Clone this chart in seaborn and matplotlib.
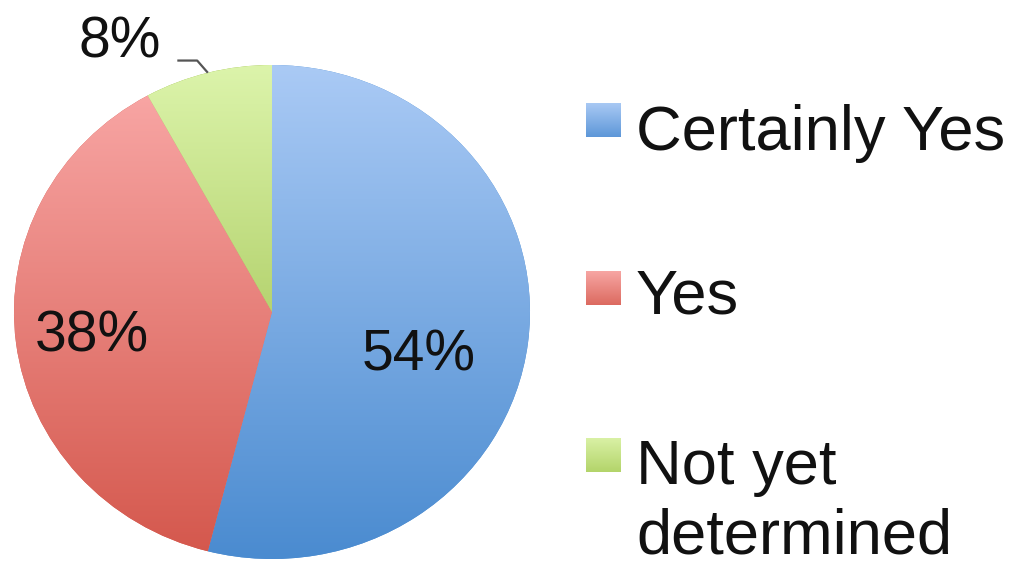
import numpy as np
import seaborn as sns
import matplotlib.pyplot as plt

sns.set_theme(style="white")
plt.rcParams["font.family"] = ["Liberation Sans", "DejaVu Sans"]

# data
labels = ["Certainly Yes", "Yes", "Not yet\ndetermined"]
values = [54, 38, 8]
pct_labels = ["54%", "38%", "8%"]

# vertical gradient colours (top, bottom) per slice
grad_top = ["#aacaf5", "#faaaa9", "#dcf4ab"]
grad_bottom = ["#4a8bd0", "#d4574c", "#8fb336"]

fig = plt.figure(figsize=(10.16, 5.66), dpi=100)
W, H = 1016, 566

# pie axes: slightly wider than tall, like the original
ax = fig.add_axes([14 / W, 7 / H, 516 / W, 494 / H])
wedges, _ = ax.pie(values, startangle=90, counterclock=False,
                   colors=grad_bottom, radius=1,
                   wedgeprops=dict(linewidth=0))
ax.set_xlim(-1, 1)
ax.set_ylim(-1, 1)

ramp = np.linspace(0, 1, 256).reshape(-1, 1)
for w, c0, c1 in zip(wedges, grad_top, grad_bottom):
    cmap = sns.blend_palette([c0, c1], as_cmap=True)
    im = ax.imshow(ramp, cmap=cmap, extent=[-1, 1, -1, 1], origin="upper",
                   aspect="auto", zorder=2, interpolation="bilinear")
    im.set_clip_path(w)
ax.set_aspect("auto")
ax.axis("off")

# percentage labels
pos = [(0.57, -0.175), (-0.70, -0.10), (-0.59, 1.09)]
for (x, y), t in zip(pos, pct_labels):
    ax.text(x, y, t, fontsize=41, color="#111111", ha="center", va="center",
            zorder=5, clip_on=False)

# leader line for the small slice
theta = np.deg2rad(90 - (values[0] + values[1] + values[2] / 2) * 3.6)
ex, ey = np.cos(theta), np.sin(theta)
ax.plot([-0.367, -0.29, ex], [1.018, 1.018, ey], color="#555555", lw=1.6,
        zorder=5, clip_on=False, solid_capstyle="butt")

# legend drawn on a pixel-space overlay
ov = fig.add_axes([0, 0, 1, 1])
ov.axis("off")
sq_y = [103, 271, 438]
text_base = [150, 313, 553]  # baseline of the last line of each label
sq_top = ["#a9c9f4", "#f7a6a3", "#d9f1a5"]
sq_bottom = ["#5d97d8", "#dc6a60", "#b3d46a"]
for y, b, lab, c0, c1 in zip(sq_y, text_base, labels, sq_top, sq_bottom):
    cmap = sns.blend_palette([c0, c1], as_cmap=True)
    ov.imshow(ramp, cmap=cmap, extent=[586, 621, y + 34, y], aspect="auto",
              interpolation="bilinear")
    ov.text(636, b, lab, fontsize=45.5, color="#111111", ha="left",
            va="baseline", linespacing=1.22)
ov.set_xlim(0, W)
ov.set_ylim(H, 0)

fig.savefig("out.png", dpi=100)
